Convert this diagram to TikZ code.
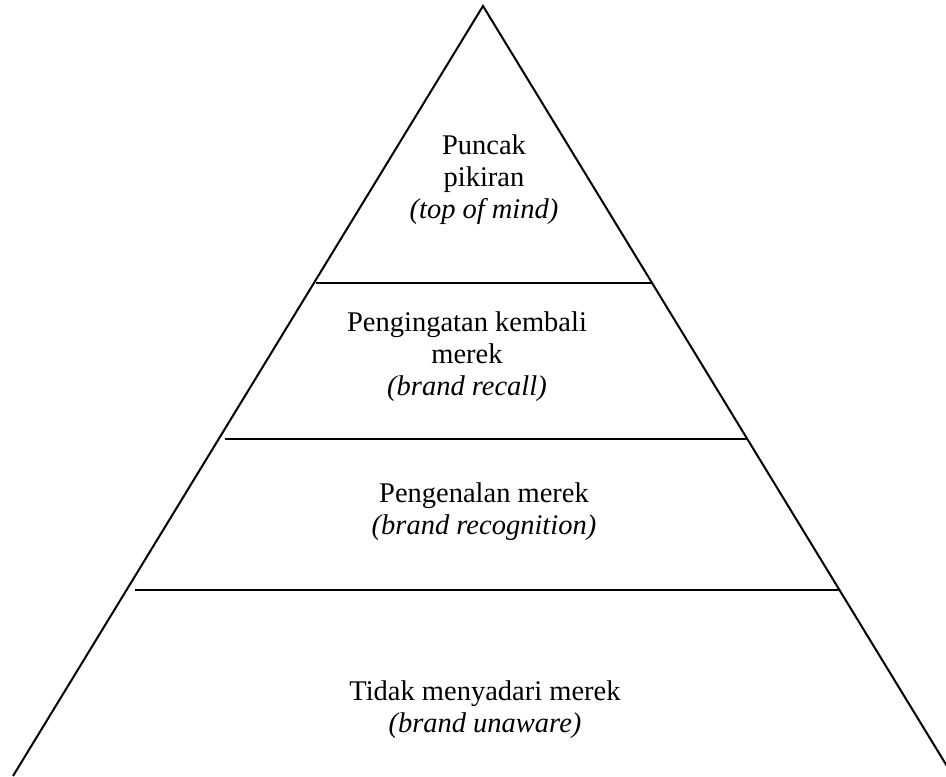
\documentclass[tikz,border=0pt]{standalone}
\usepackage{fontspec}
\setmainfont{Liberation Serif}
\usetikzlibrary{positioning}

\begin{document}
\begin{tikzpicture}[x=0.5pt, y=-0.5pt,
    edge/.style={line width=1pt, black},
    tier/.style={font=\fontsize{14.25}{16}\selectfont, align=center,
                 inner sep=0pt}
  ]
    \useasboundingbox (0,0) rectangle (946,776);
    \clip (0,0) rectangle (946,776);

    % pyramid outline
    \coordinate (apex) at (483,6);
    \coordinate (bl)   at (13,776);
    \coordinate (br)   at (953,776);
    \draw[edge] (bl) -- (apex) -- (br);

    % tier borders
    \coordinate (t1l) at (316,283);  \coordinate (t1r) at (652,283);
    \coordinate (t2l) at (225,439);  \coordinate (t2r) at (747,439);
    \coordinate (t3l) at (135,590);  \coordinate (t3r) at (839,590);
    \draw[edge] (t1l) -- (t1r);
    \draw[edge] (t2l) -- (t2r);
    \draw[edge] (t3l) -- (t3r);

    % tier labels
    \node[tier] (top)    at (484,180) {Puncak\\pikiran\\\textit{(top of mind)}};
    \node[tier] (recall) at (467,357) {Pengingatan kembali\\merek\\\textit{(brand recall)}};
    \node[tier] (recog)  at (484,512) {Pengenalan merek\\\textit{(brand recognition)}};
    \node[tier] (unaw)   at (485,710) {Tidak menyadari merek\\\textit{(brand unaware)}};
\end{tikzpicture}
\end{document}
